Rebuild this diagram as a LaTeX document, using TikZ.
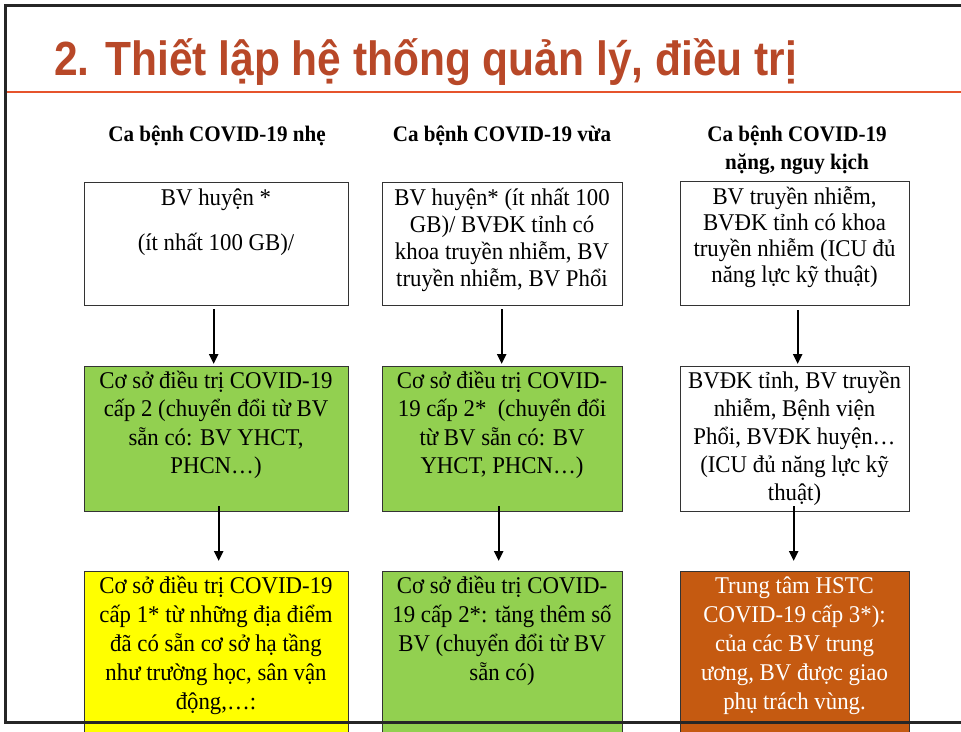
\documentclass[tikz,border=0pt]{standalone}
\usepackage{fontspec}
\setmainfont{Liberation Serif}
\newfontfamily\bodyfont[FakeStretch=0.95]{Liberation Serif}
\newfontfamily\titlefont[FakeStretch=0.885]{Liberation Sans}
\usetikzlibrary{arrows.meta}
\definecolor{titlered}{RGB}{184,72,40}
\definecolor{rulered}{RGB}{230,84,44}
\definecolor{boxgreen}{RGB}{146,208,80}
\definecolor{boxyellow}{RGB}{255,255,0}
\definecolor{boxorange}{RGB}{197,90,17}
\newcommand\firstline{\rule{0pt}{23pt}}
\newcommand\hdrline{\rule{0pt}{21pt}}
\newcommand\tightlines{\lineskiplimit=-40pt\relax}
\newcommand\bodysize[1]{\bodyfont\fontsize{24}{#1}\selectfont\tightlines}
\newcommand\hdrsize{\bodyfont\bfseries\fontsize{22.2}{28}\selectfont\tightlines}
\begin{document}
\begin{tikzpicture}[x=1pt,y=-1pt,
  box/.style={draw=black!80, line width=1.4pt, anchor=north west, inner sep=0pt},
  txt/.style={inner sep=0pt, align=center, anchor=north, font={\bodysize{#1}}},
  hdr/.style={inner sep=0pt, align=center, anchor=north, font={\hdrsize}},
  arr/.style={line width=2.4pt, -{Triangle[length=10pt,width=9pt]}}
]
\useasboundingbox (0,0) rectangle (961,731);
\clip (0,0) rectangle (961,731);

% title
\node[anchor=base west, inner sep=0pt, text=titlered,
  font={\titlefont\bfseries\fontsize{48}{58}\selectfont}] (title) at (54,75)
  {2. Thiết lập hệ thống quản lý, điều trị};
\draw[rulered, line width=2.5pt] (5,92) -- (961,92);

% headers
\node[hdr] (h1) at (217,120) {\hdrline Ca bệnh COVID-19 nhẹ};
\node[hdr] (h2) at (502,120) {\hdrline Ca bệnh COVID-19 vừa};
\node[hdr] (h3) at (797,120) {\hdrline Ca bệnh COVID-19\\nặng, nguy kịch};

% boxes
\node[box, minimum width=264pt, minimum height=123pt] (a1) at (84,182) {};
\node[box, minimum width=240pt, minimum height=123pt] (a2) at (382,182) {};
\node[box, minimum width=229pt, minimum height=124pt] (a3) at (680,181) {};
\node[box, fill=boxgreen, minimum width=264pt, minimum height=145pt] (b1) at (84,366) {};
\node[box, fill=boxgreen, minimum width=240pt, minimum height=145pt] (b2) at (382,366) {};
\node[box, fill=white, minimum width=229pt, minimum height=145pt] (b3) at (680,366) {};
\node[box, fill=boxyellow, minimum width=264pt, minimum height=180pt] (c1) at (84,571) {};
\node[box, fill=boxgreen, minimum width=240pt, minimum height=180pt] (c2) at (382,571) {};
\node[box, fill=boxorange, minimum width=229pt, minimum height=180pt] (c3) at (680,571) {};

% texts
\node[txt=28.5] (a1t) at (216,182) {\firstline BV huyện *\\[16.5pt](ít nhất 100 GB)/};
\node[txt=27] (a2t) at (502,182) {\firstline BV huyện* (ít nhất 100\\GB)/ BVĐK tỉnh có\\khoa truyền nhiễm, BV\\truyền nhiễm, BV Phổi};
\node[txt=26] (a3t) at (794.5,181) {\firstline BV truyền nhiễm,\\BVĐK tỉnh có khoa\\truyền nhiễm (ICU đủ\\năng lực kỹ thuật)};
\node[txt=28.5] (b1t) at (216,365) {\firstline Cơ sở điều trị COVID-19\\cấp 2 (chuyển đổi từ BV\\sẵn có: BV YHCT,\\PHCN…)};
\node[txt=28.5] (b2t) at (502,365) {\firstline Cơ sở điều trị COVID-\\19 cấp 2*\ \ (chuyển đổi\\từ BV sẵn có: BV\\YHCT, PHCN…)};
\node[txt=28] (b3t) at (794.5,365) {\firstline BVĐK tỉnh, BV truyền\\nhiễm, Bệnh viện\\Phổi, BVĐK huyện…\\(ICU đủ năng lực kỹ\\thuật)};
\node[txt=29] (c1t) at (216,570) {\firstline Cơ sở điều trị COVID-19\\cấp 1* từ những địa điểm\\đã có sẵn cơ sở hạ tầng\\như trường học, sân vận\\động,…:};
\node[txt=29] (c2t) at (502,570) {\firstline Cơ sở điều trị COVID-\\19 cấp 2*: tăng thêm số\\BV (chuyển đổi từ BV\\sẵn có)};
\node[txt=29, text=white] (c3t) at (794.5,570) {\firstline Trung tâm HSTC\\COVID-19 cấp 3*):\\của các BV trung\\ương, BV được giao\\phụ trách vùng.};

% arrows
\draw[arr] ([xshift=-3pt,yshift=-3pt]a1.south) -- ([xshift=-3pt,yshift=2pt]b1.north);
\draw[arr] ([xshift=2pt,yshift=6pt]b1.south) -- ([xshift=2pt,yshift=10pt]c1.north);
\draw[arr] ([xshift=-1pt,yshift=-3pt]a2.south) -- ([xshift=-1pt,yshift=2pt]b2.north);
\draw[arr] ([xshift=-4pt,yshift=6pt]b2.south) -- ([xshift=-4pt,yshift=10pt]c2.north);
\draw[arr] ([xshift=2.5pt,yshift=-4pt]a3.south) -- ([xshift=2.5pt,yshift=2pt]b3.north);
\draw[arr] ([xshift=-1.5pt,yshift=6pt]b3.south) -- ([xshift=-1.5pt,yshift=10pt]c3.north);

% slide frame
\draw[black!85, line width=3pt] (961,5) -- (5,5) -- (5,722) -- (961,722);
\end{tikzpicture}
\end{document}
